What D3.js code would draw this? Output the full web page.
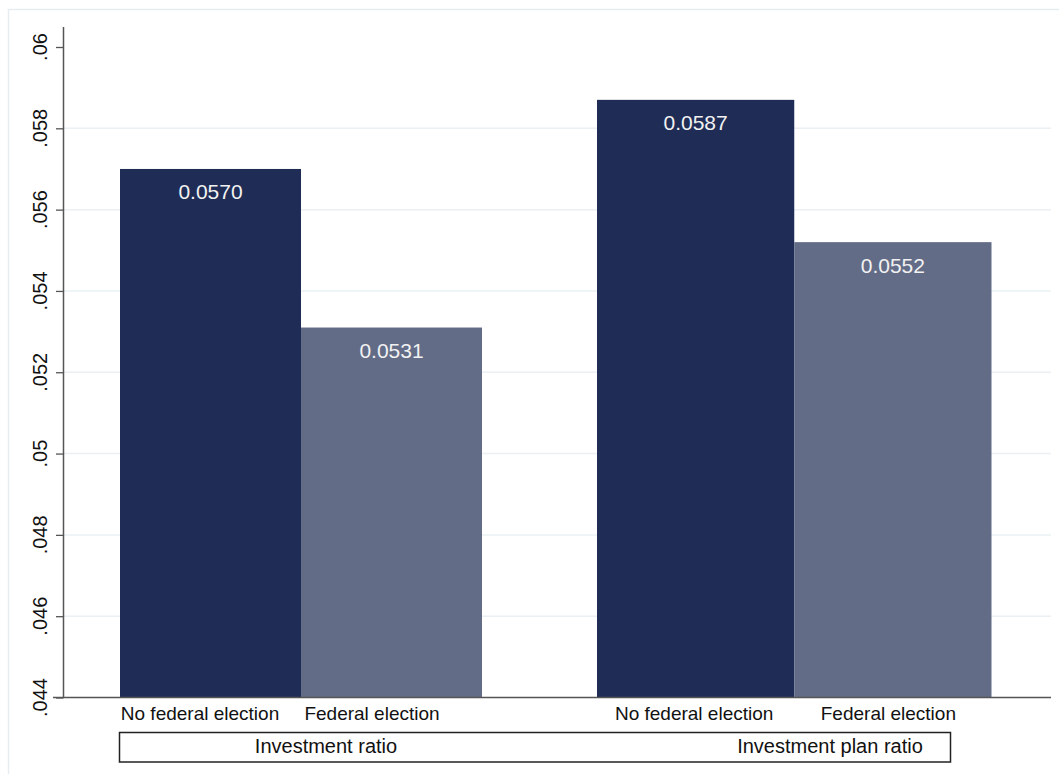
<!DOCTYPE html>
<html>
<head>
<meta charset="utf-8">
<script src="https://cdn.jsdelivr.net/npm/d3@7"></script>
<style>
html,body{margin:0;padding:0;background:#fff;}
svg{display:block;font-family:"Liberation Sans",Arial,Helvetica,sans-serif;}
</style>
</head>
<body>
<svg id="chart" width="1059" height="774"></svg>
<script>
// ---- data ----
const groups = ["Investment ratio", "Investment plan ratio"];
const categories = ["No federal election", "Federal election"];
const noElection = [0.0570, 0.0587];
const election = [0.0531, 0.0552];
const yTickValues = [0.044, 0.046, 0.048, 0.05, 0.052, 0.054, 0.056, 0.058, 0.06];
const yTickLabels = [".044", ".046", ".048", ".05", ".052", ".054", ".056", ".058", ".06"];

// ---- layout ----
const svg = d3.select("#chart");
const axisX = 63.5, axisBottom = 697.5, axisTop = 27, plotRight = 1051;
const colors = ["#1f2c55", "#636c87"];

// outer frame
svg.append("rect").attr("x", 8.5).attr("y", 9.5).attr("width", 1060).attr("height", 780)
  .attr("fill", "#fff").attr("stroke", "#e6edf1").attr("stroke-width", 1.5);

const y = d3.scaleLinear().domain([0.044, 0.06]).range([axisBottom, 47]);

// gridlines
svg.append("g").selectAll("line")
  .data(yTickValues.filter(v => v > 0.0441 && v < 0.0599))
  .join("line")
  .attr("x1", axisX).attr("x2", plotRight)
  .attr("y1", d => y(d)).attr("y2", d => y(d))
  .attr("stroke", "#eaf0f3").attr("stroke-width", 1.5);

// group extents (pixel layout) and per-group band scales
const groupExtents = [[120, 482], [597, 991.5]];
const series = [noElection, election];
const bars = [];
groups.forEach((g, gi) => {
  const xb = d3.scaleBand().domain(categories).range(groupExtents[gi]).paddingInner(0).paddingOuter(0);
  categories.forEach((c, ci) => {
    bars.push({g, gi, c, ci, v: series[ci][gi], x: xb(c), w: xb.bandwidth()});
  });
});

svg.append("g").selectAll("rect").data(bars).join("rect")
  .attr("x", d => d.x).attr("width", d => d.w)
  .attr("y", d => y(d.v)).attr("height", d => axisBottom - y(d.v))
  .attr("fill", d => colors[d.ci]);

// bar value labels
const fmt = d3.format(".4f");
svg.append("g").selectAll("text").data(bars).join("text")
  .attr("x", d => d.x + d.w / 2).attr("y", d => y(d.v) + 30.5)
  .attr("text-anchor", "middle").attr("fill", "#f2f2f2")
  .style("font-size", "21px")
  .text(d => fmt(d.v));

// y axis
const yAxis = d3.axisLeft(y).tickValues(yTickValues).tickSize(7.5).tickFormat((d, i) => yTickLabels[i]);
const ga = svg.append("g").attr("transform", `translate(${axisX},0)`).call(yAxis);
ga.select(".domain").remove();
ga.selectAll(".tick line").attr("stroke", "#555").attr("stroke-width", 1.3);
ga.selectAll(".tick text").remove();
svg.append("line").attr("x1", axisX).attr("x2", axisX).attr("y1", axisTop).attr("y2", axisBottom)
  .attr("stroke", "#555").attr("stroke-width", 1.5);
svg.append("g").selectAll("text").data(yTickValues).join("text")
  .attr("transform", (d) => `translate(47,${y(d)}) rotate(-90)`)
  .attr("text-anchor", "middle").attr("fill", "#111")
  .style("font-size", "20px")
  .text((d, i) => yTickLabels[i]);

// x axis line
svg.append("line").attr("x1", 53).attr("x2", plotRight).attr("y1", axisBottom).attr("y2", axisBottom)
  .attr("stroke", "#555").attr("stroke-width", 1.5);

// category labels (positions as in reference)
const catLabelOffsets = [[-10.5, -19.5], [-1.5, -4.5]];
svg.append("g").selectAll("text").data(bars).join("text")
  .attr("x", d => d.x + d.w / 2 + catLabelOffsets[d.gi][d.ci]).attr("y", 720)
  .attr("text-anchor", "middle").attr("fill", "#111")
  .style("font-size", "19px")
  .text(d => d.c);

// group label box
svg.append("rect").attr("x", 119.5).attr("y", 732.5).attr("width", 831).attr("height", 29.5)
  .attr("fill", "none").attr("stroke", "#222").attr("stroke-width", 1.5);
const groupLabelX = [326, 830];
svg.append("g").selectAll("text").data(groups).join("text")
  .attr("x", (d, i) => groupLabelX[i]).attr("y", 752.5)
  .attr("text-anchor", "middle").attr("fill", "#111")
  .style("font-size", "20px")
  .text(d => d);
</script>
</body>
</html>
